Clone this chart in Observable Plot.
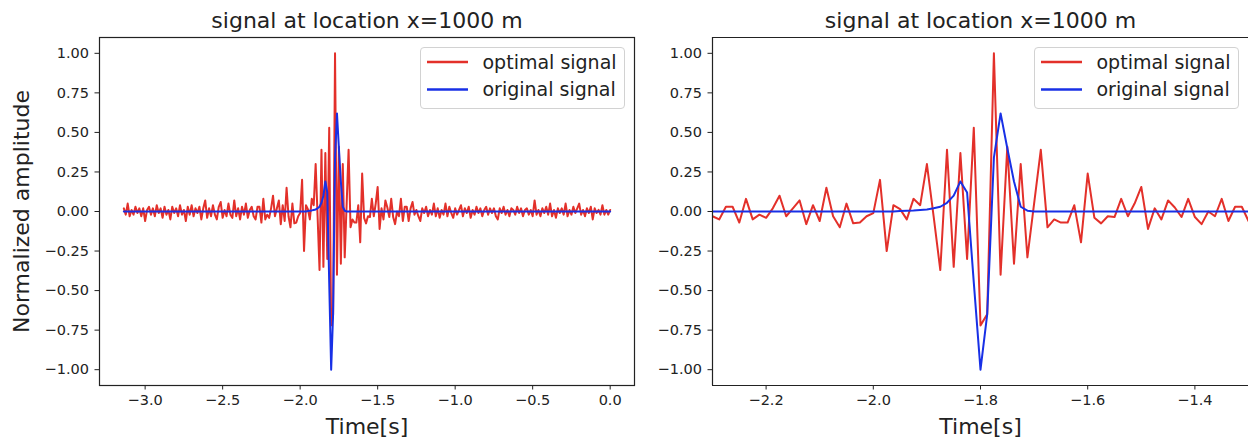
<!DOCTYPE html>
<html><head><meta charset="utf-8">
<script src="https://cdn.jsdelivr.net/npm/d3@7"></script>
<script src="https://cdn.jsdelivr.net/npm/@observablehq/plot@0.6"></script>
<style>
html,body{margin:0;padding:0;background:#fff;overflow:hidden}
#wrap{position:relative;width:1248px;height:438px;font-family:"DejaVu Sans",sans-serif;overflow:hidden}
#wrap > svg{position:absolute;top:0}
.legend{position:absolute;box-sizing:border-box;background:rgba(255,255,255,0.85);border:1px solid #d2d2d2;border-radius:4px}
.legend svg{display:block}
</style></head><body><div id="wrap"></div>
<script>
// ---- data ----
const titleText = "signal at location x=1000 m";
const xLabel = "Time[s]";
const yLabel = "Normalized amplitude";
const seriesNames = ["optimal signal", "original signal"];
const seriesColors = ["#e3302a", "#1830e6"];

// sampling of the optimal (red) signal
const t0 = -3.1375;
const dt = 0.0125;
const optimalSignal = [
  // t = -3.1375 ... -2.3125
  0.02,-0.02,0.05,-0.03,0.01,-0.02,0.03,-0.01,0.02,-0.03,
  0.02,-0.06,0.01,0.03,-0.02,0.02,-0.03,0.04,-0.01,0.02,
  -0.04,0.03,-0.02,0.01,-0.05,0.03,-0.01,0.02,-0.03,0.04,
  -0.02,0.01,-0.06,0.03,-0.02,0.04,-0.03,0.02,-0.01,0.03,
  -0.05,0.02,0.07,-0.04,0.02,-0.03,0.04,-0.02,-0.05,0.03,
  0.06,-0.04,0.01,-0.03,0.05,-0.02,-0.04,0.07,-0.03,0.02,
  -0.05,0.03,-0.02,0.05,-0.04,0.01,0.03,
  // t = -2.3 ... -1.3
  -0.03,-0.05,0.03,0.03,-0.07,0.08,-0.05,-0.02,-0.04,0.02,
  0.10,-0.03,0.02,0.07,-0.08,0.04,-0.06,0.15,-0.03,-0.10,
  0.05,-0.075,-0.07,-0.03,-0.01,0.20,-0.25,0.04,0.015,-0.05,
  0.08,0.04,0.30,-0.03,-0.37,0.39,-0.35,0.37,-0.30,0.53,
  -0.72,-0.65,1.00,-0.40,0.41,-0.33,0.30,-0.29,0.05,0.39,
  -0.10,-0.05,-0.07,-0.07,0.04,-0.195,0.24,-0.04,-0.075,-0.03,
  -0.035,0.08,-0.03,0.05,0.155,-0.11,0.02,-0.05,0.07,0.025,
  -0.035,0.08,-0.035,-0.08,0.00,-0.03,0.08,-0.06,0.03,0.03,
  -0.06,
  // t = -1.2875 ... 0
  0.02,0.06,-0.02,0.01,-0.03,-0.06,0.02,-0.01,0.03,-0.03,
  0.01,-0.02,0.05,-0.03,0.02,-0.04,0.01,-0.02,0.05,-0.03,
  0.03,-0.01,-0.04,0.02,-0.02,0.01,0.04,-0.03,0.02,-0.01,
  0.03,-0.04,0.01,-0.02,0.03,-0.01,0.02,-0.03,0.01,0.03,
  -0.02,0.02,-0.01,0.02,-0.03,-0.05,0.02,-0.01,0.03,-0.02,
  0.01,-0.03,0.02,0.01,-0.02,0.03,-0.01,0.02,-0.03,0.01,
  0.02,-0.02,0.01,-0.03,0.07,-0.02,0.01,-0.03,0.02,-0.01,
  0.03,-0.02,0.05,-0.03,0.01,-0.04,0.02,-0.01,0.02,-0.02,
  0.05,-0.03,0.01,-0.02,0.03,-0.01,0.02,0.05,-0.02,0.01,
  -0.03,0.02,-0.01,0.03,-0.05,0.02,-0.01,0.01,-0.02,0.04,
  -0.02,0.01,-0.02,0.01
];

// original (blue) signal: flat zero except the pulse
const originalTimes = [-3.1375,-1.9625,-1.95,-1.9375,-1.925,-1.9125,-1.9,-1.8875,-1.875,-1.8625,-1.85,-1.8375,-1.825,-1.8125,-1.8,-1.7875,-1.775,-1.7625,-1.75,-1.7375,-1.725,-1.7125,-1.7,0];
const originalValues = [0,0,0.003,0.005,0.007,0.01,0.013,0.02,0.03,0.055,0.10,0.19,0.12,-0.45,-1.00,-0.65,0.34,0.62,0.40,0.19,0.03,0.005,0,0];

const yTicks = [-1, -0.75, -0.5, -0.25, 0, 0.25, 0.5, 0.75, 1];
const leftXTicks = [-3.0, -2.5, -2.0, -1.5, -1.0, -0.5, 0.0];
const rightXTicks = [-2.2, -2.0, -1.8, -1.6, -1.4];
const leftXDomain = [-3.2944, 0.1569];
const rightXDomain = [-2.3, -1.3];
const yDomain = [-1.1, 1.1];

// ---- build ----
const red = optimalSignal.map((v, i) => ({t: t0 + i * dt, v}));
const blue = originalTimes.map((t, i) => ({t, v: originalValues[i]}));

function panel({width, marginLeft, marginRight, xDomain, xTicks, withYLabel, fullFrame}) {
  const marks = [
    Plot.line(red, {x: "t", y: "v", stroke: seriesColors[0], strokeWidth: 2, clip: true}),
    Plot.line(blue, {x: "t", y: "v", stroke: seriesColors[1], strokeWidth: 2, clip: true}),
  ];
  if (fullFrame) {
    marks.push(Plot.frame({stroke: "#222", strokeWidth: 1.2}));
  } else {
    marks.push(Plot.ruleX([xDomain[0]], {stroke: "#222", strokeWidth: 1.2}));
    marks.push(Plot.ruleY(yDomain, {stroke: "#222", strokeWidth: 1.2}));
  }
  marks.push(Plot.text([titleText], {frameAnchor: "top", lineAnchor: "middle", textAnchor: "middle", dy: -16.5, fontSize: 22, fill: "#222"}));
  marks.push(Plot.text([xLabel], {frameAnchor: "bottom", lineAnchor: "middle", textAnchor: "middle", dy: 41, fontSize: 22, fill: "#222"}));
  if (withYLabel) {
    marks.push(Plot.text([yLabel], {frameAnchor: "left", lineAnchor: "middle", textAnchor: "middle", dx: -78, rotate: -90, fontSize: 22, fill: "#222"}));
  }
  return Plot.plot({
    width, height: 438,
    marginLeft, marginRight, marginTop: 37, marginBottom: 53,
    style: {fontFamily: "DejaVu Sans", fontSize: "14.5px", color: "#222", background: "transparent"},
    x: {domain: xDomain, ticks: xTicks, tickFormat: d3.format(".1f"), tickSize: 4.5, tickPadding: 5, label: null},
    y: {domain: yDomain, ticks: yTicks, tickFormat: d3.format(".2f"), tickSize: 4.5, tickPadding: 6, label: null},
    marks
  });
}

const wrap = document.getElementById("wrap");
const left = panel({width: 640, marginLeft: 99, marginRight: 6, xDomain: leftXDomain, xTicks: leftXTicks, withYLabel: true, fullFrame: true});
left.style.left = "0px";
wrap.appendChild(left);
const right = panel({width: 608, marginLeft: 72, marginRight: 0, xDomain: rightXDomain, xTicks: rightXTicks, withYLabel: false, fullFrame: false});
right.style.left = "640px";
wrap.appendChild(right);

function legend(x, y) {
  const w = 205, h = 62;
  const div = document.createElement("div");
  div.className = "legend";
  div.style.left = x + "px"; div.style.top = y + "px";
  div.style.width = w + "px"; div.style.height = h + "px";
  const svg = d3.create("svg").attr("width", w - 2).attr("height", h - 2);
  seriesNames.forEach((name, i) => {
    const cy = 14 + i * 27.6;
    svg.append("line").attr("x1", 6).attr("x2", 47).attr("y1", cy).attr("y2", cy)
      .attr("stroke", seriesColors[i]).attr("stroke-width", 2.5);
    svg.append("text").attr("x", 61.5).attr("y", cy).attr("dy", "0.35em")
      .attr("font-family", "DejaVu Sans").attr("font-size", 19).attr("fill", "#222").text(name);
  });
  div.appendChild(svg.node());
  wrap.appendChild(div);
}
legend(420, 47);
legend(1034, 47);
</script></body></html>
